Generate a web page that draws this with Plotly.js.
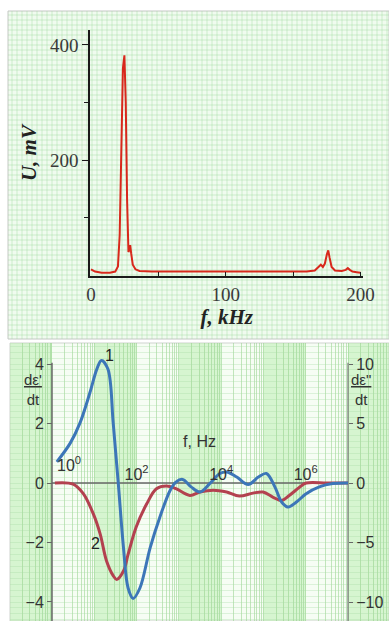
<!DOCTYPE html>
<html><head><meta charset="utf-8">
<script src="https://cdn.plot.ly/plotly-3.0.1.min.js"></script>
<style>html,body{margin:0;padding:0;background:#fff}#chart{width:389px;height:621px}</style>
</head><body><div id="chart"></div>
<script>
// ---- Top panel: spectrum U(f) ----
const specFreqKHz = [0, 3, 8, 14, 18, 20, 21.3, 22.6, 23.7, 24.8, 25.8, 26.8, 27.8, 28.6, 29.1, 29.8, 31, 33, 36, 45, 100, 160, 166, 169, 170.5, 172, 173.5, 175, 176, 177, 178.5, 181, 186, 189, 190.5, 192, 194, 197, 200];
const specVoltageMV = [10, 6, 4, 4, 6, 15, 70, 245, 360, 382, 300, 130, 40, 45, 52, 38, 18, 10, 7, 6, 6, 6, 8, 14, 18, 14, 20, 36, 43, 30, 14, 8, 7, 9, 12, 9, 6, 5, 4];
const specXTicks = [0, 100, 200];
const specXMinor = [50, 150];
const specYTicks = [200, 400];
const specYMinor = [100, 300];

// ---- Bottom panel: derivatives vs frequency ----
const curve1FreqHz = [1.3, 2.7, 4.6, 7.9, 11.5, 14.8, 21, 28, 37, 49, 63, 83, 120, 210, 355, 620, 850, 1230, 1950, 3160, 5370, 9330, 13500, 23400, 43600, 75900, 117500, 186200, 269200, 380200, 602600, 1023000, 2089000, 4365000, 10000000];
const curve1dEps1 = [0.71, 1.34, 2.02, 3.04, 3.83, 4.12, 3.83, 2.02, -0.02, -2.17, -3.53, -3.88, -3.53, -2.17, -1.15, -0.25, 0.03, 0.12, -0.13, -0.30, -0.02, 0.32, 0.37, 0.2, -0.05, 0.2, 0.32, -0.13, -0.64, -0.81, -0.64, -0.36, -0.13, -0.02, 0];
const curve2FreqHz = [1.17, 3.16, 5.5, 9.5, 13.8, 19.5, 28.2, 33.9, 49, 63, 98, 174, 295, 513, 851, 1820, 3160, 6460, 13490, 26900, 56200, 97700, 169800, 269200, 407400, 724400, 1023000, 3162000, 10000000];
const curve2dEps2 = [0, -0.1, -0.9, -2.6, -4.3, -6.55, -7.8, -8.1, -7.4, -6.0, -3.7, -1.75, -0.48, -0.25, -0.48, -1.04, -0.76, -0.6, -0.76, -1.1, -0.85, -0.76, -1.2, -1.47, -1.05, -0.34, 0, 0, 0];
const leftTicks = [-4, -2, 0, 2, 4];
const rightTicks = [-10, -5, 0, 5, 10];
const freqTickVals = [100, 10000, 1000000];
const freqTickText = ['10<sup>2</sup>', '10<sup>4</sup>', '10<sup>6</sup>'];
const firstFreqLabel = '10<sup>0</sup>';

const W = 389, H = 621;
const px = x => x / W;
const py = y => 1 - y / H;

const serif = 'Liberation Serif, Times New Roman, serif';
const sans = 'Liberation Sans, Arial, sans-serif';

// decorative background: graph paper
const shapes = [];
shapes.push({type: 'rect', xref: 'paper', yref: 'paper', x0: px(8), x1: 1, y0: py(339), y1: py(11),
  fillcolor: '#f0fbef', line: {color: '#c4c8c4', width: 1}, layer: 'below'});
for (let x = 12; x < 389; x += 5) {
  shapes.push({type: 'line', xref: 'paper', yref: 'paper', x0: px(x), x1: px(x), y0: py(339), y1: py(11),
    line: {color: 'rgba(160,220,160,0.45)', width: 1}, layer: 'below'});
}
for (let y = 15; y < 339; y += 5) {
  shapes.push({type: 'line', xref: 'paper', yref: 'paper', x0: px(8), x1: 1, y0: py(y), y1: py(y),
    line: {color: 'rgba(160,220,160,0.45)', width: 1}, layer: 'below'});
}
shapes.push({type: 'rect', xref: 'paper', yref: 'paper', x0: px(10), x1: 1, y0: 0, y1: py(343),
  fillcolor: '#f6fdf4', line: {color: '#cfd3cf', width: 1}, layer: 'below'});
for (let k = -1; k <= 7; k += 2) {
  shapes.push({type: 'rect', xref: 'x2', yref: 'paper', x0: Math.pow(10, k), x1: Math.pow(10, k + 1), y0: 0, y1: py(343),
    fillcolor: 'rgba(175,235,165,0.45)', line: {width: 0}, layer: 'below'});
}
// zero line and vertical axis lines of bottom panel (in right-axis units: y2)
shapes.push({type: 'line', xref: 'x2', yref: 'y2', x0: 1, x1: 1e7, y0: 0, y1: 0, line: {color: '#666', width: 1.5}, layer: 'between'});
shapes.push({type: 'line', xref: 'x2', yref: 'y2', x0: 1, x1: 1, y0: -11.6, y1: 10.1, line: {color: '#666', width: 1.5}, layer: 'between'});
shapes.push({type: 'line', xref: 'x2', yref: 'y2', x0: 1e7, x1: 1e7, y0: -11.6, y1: 10.1, line: {color: '#777', width: 1.2}, layer: 'between'});

const minorGrid = [];
for (let k = -1; k <= 7; k++) for (let d = 1; d <= 9; d++) minorGrid.push(d * Math.pow(10, k));

const traces = [
  {type: 'scatter', mode: 'lines', x: specFreqKHz, y: specVoltageMV, xaxis: 'x', yaxis: 'y',
    line: {color: '#d8281c', width: 2}, hoverinfo: 'skip'},
  {type: 'scatter', mode: 'lines', x: curve2FreqHz, y: curve2dEps2, xaxis: 'x2', yaxis: 'y2', name: '2',
    line: {color: '#b3414f', width: 3, shape: 'spline', smoothing: 1}},
  {type: 'scatter', mode: 'lines', x: curve1FreqHz, y: curve1dEps1, xaxis: 'x2', yaxis: 'y3', name: '1',
    line: {color: '#3c76b8', width: 3, shape: 'spline', smoothing: 1}}
];

const layout = {
  width: W, height: H, margin: {l: 0, r: 0, t: 0, b: 0},
  paper_bgcolor: '#ffffff', plot_bgcolor: 'rgba(0,0,0,0)', showlegend: false,
  shapes: shapes,
  xaxis: {domain: [px(90.3), px(363.3)], range: [-0.5, 202], anchor: 'y',
    showline: true, linecolor: '#1a1a1a', linewidth: 2, showgrid: false, zeroline: false,
    tickmode: 'array', tickvals: specXTicks, ticks: 'inside', ticklen: 4, tickcolor: '#1a1a1a',
    minor: {tickmode: 'array', tickvals: specXMinor, ticks: 'inside', ticklen: 4, tickcolor: '#1a1a1a', showgrid: false},
    tickfont: {family: serif, size: 19, color: '#3a3a3a'},
    title: {text: '<b><i>f, kHz</i></b>', font: {family: serif, size: 21, color: '#222'}, standoff: 4}},
  yaxis: {domain: [py(276.2), py(30)], range: [-2, 426], anchor: 'x',
    showline: true, linecolor: '#1a1a1a', linewidth: 2, showgrid: false, zeroline: false,
    tickmode: 'array', tickvals: specYTicks, ticks: 'outside', ticklen: 6, tickcolor: '#1a1a1a',
    minor: {tickmode: 'array', tickvals: specYMinor, ticks: 'outside', ticklen: 4, tickcolor: '#1a1a1a', showgrid: false},
    tickfont: {family: serif, size: 19, color: '#3a3a3a'},
    title: {text: '<b><i>U, mV</i></b>', font: {family: serif, size: 21, color: '#222'}, standoff: 8}},
  xaxis2: {type: 'log', domain: [px(10), 1], range: [-0.993, 7.969], anchor: 'free', position: py(483), side: 'top',
    showline: false, zeroline: false, showgrid: false,
    tickmode: 'array', tickvals: freqTickVals, ticktext: freqTickText, ticks: '',
    minor: {tickmode: 'array', tickvals: minorGrid, showgrid: true, gridcolor: 'rgba(140,205,130,0.5)', gridwidth: 1, ticks: ''},
    tickfont: {family: sans, size: 16, color: '#333'},
    title: {text: 'f, Hz', font: {family: sans, size: 16, color: '#333'}, standoff: 10}},
  yaxis2: {domain: [0, py(343)], range: [-11.597, 11.765], anchor: 'free', position: px(348), side: 'right',
    showline: false, zeroline: false, showgrid: false,
    tickmode: 'array', tickvals: rightTicks, ticks: 'outside', ticklen: 4, tickcolor: '#666',
    minor: {dtick: 0.5, showgrid: true, gridcolor: 'rgba(170,220,165,0.35)', ticks: ''},
    tickfont: {family: sans, size: 16, color: '#333'}},
  yaxis3: {overlaying: 'y2', range: [-4.639, 4.706], anchor: 'free', position: px(52), side: 'left',
    showline: false, zeroline: false, showgrid: false,
    tickmode: 'array', tickvals: leftTicks, ticks: 'outside', ticklen: 5, tickcolor: '#666',
    tickfont: {family: sans, size: 16, color: '#333'}},
  annotations: [
    {xref: 'paper', yref: 'paper', x: px(55), y: py(476), xanchor: 'left', yanchor: 'bottom', text: firstFreqLabel, showarrow: false,
      font: {family: sans, size: 16, color: '#333'}},
    {xref: 'x2', yref: 'y3', x: Math.log10(23.5), y: 4.3, text: '1', showarrow: false,
      font: {family: sans, size: 16, color: '#222'}},
    {xref: 'x2', yref: 'y3', x: Math.log10(10.4), y: -2.02, text: '2', showarrow: false,
      font: {family: sans, size: 16, color: '#222'}},
    {xref: 'paper', yref: 'paper', x: px(22), y: py(389), text: "<u>dε'</u><br>dt", showarrow: false,
      font: {family: sans, size: 15, color: '#333'}},
    {xref: 'paper', yref: 'paper', x: px(373), y: py(389), text: '<u>dε"</u><br>dt', showarrow: false,
      font: {family: sans, size: 15, color: '#333'}}
  ]
};

Plotly.newPlot('chart', traces, layout, {displayModeBar: false, staticPlot: true});
</script>
</body></html>
